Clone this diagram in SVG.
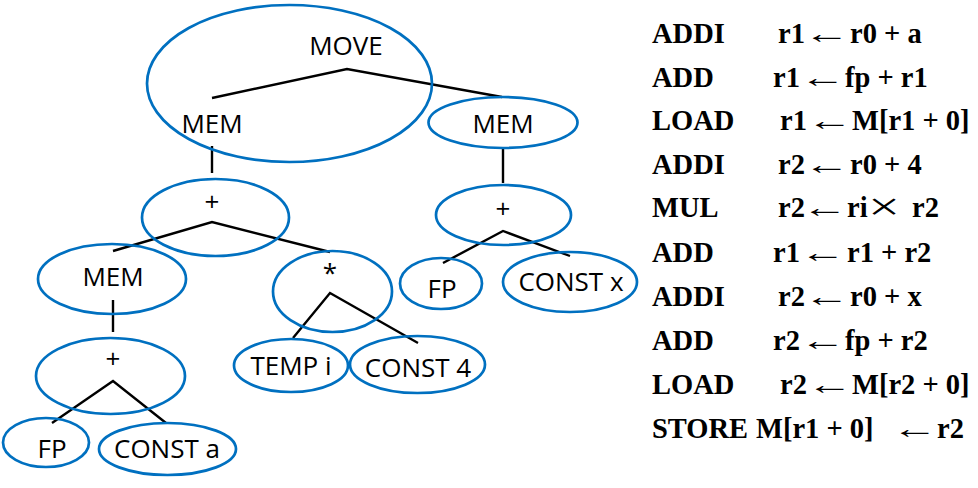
<svg xmlns="http://www.w3.org/2000/svg" width="978" height="488" viewBox="0 0 978 488">
<style>
.n{fill:none;stroke:#0070c0;stroke-width:2.7}
.t{font-family:"Open Sans","Noto Sans",sans-serif;font-size:26px;fill:#000;text-anchor:middle}
.e{stroke:#000;stroke-width:2.4;fill:none}
.c{font-family:"Liberation Serif","Times New Roman",serif;font-size:28.5px;font-weight:bold;fill:#000}
.a{font-family:"Liberation Serif","Times New Roman",serif;font-size:29px;fill:#000}
.x{font-family:"Liberation Serif","Times New Roman",serif;font-size:40px;fill:#000}
</style>
<rect width="978" height="488" fill="#fff"/>
<g id="connectors">
<polyline class="e" points="212,98 347,69 502,97"/>
<line class="e" x1="212" y1="146" x2="212" y2="173"/>
<polyline class="e" points="113,251 212,222 330,252"/>
<line class="e" x1="113" y1="300" x2="113" y2="332"/>
<polyline class="e" points="52,423 113,381 166,423"/>
<polyline class="e" points="293,338 330,293 418,343"/>
<line class="e" x1="503" y1="149" x2="503" y2="183"/>
<polyline class="e" points="443,263 503,231 570,256"/>
</g>
<g id="move"><ellipse class="n" cx="289.5" cy="83.5" rx="142.5" ry="78.5"/><text class="t" x="346" y="55">MOVE</text></g>
<g id="mem1"><text class="t" x="212" y="133">MEM</text></g>
<g id="mem2"><ellipse class="n" cx="503" cy="122.5" rx="74.5" ry="25.5"/><text class="t" x="503" y="133">MEM</text></g>
<g id="plus1"><ellipse class="n" cx="215.5" cy="217.5" rx="73.5" ry="38.5"/><text class="t" x="212" y="211">+</text></g>
<g id="mem3"><ellipse class="n" cx="112" cy="279" rx="74" ry="35"/><text class="t" x="113" y="286">MEM</text></g>
<g id="plus2"><ellipse class="n" cx="110.5" cy="376" rx="74.5" ry="38"/><text class="t" x="113" y="368">+</text></g>
<g id="fp1"><ellipse class="n" cx="46" cy="442.5" rx="43" ry="24.5"/><text class="t" x="52" y="458">FP</text></g>
<g id="consta"><ellipse class="n" cx="167.5" cy="449" rx="68.5" ry="26"/><text class="t" x="167" y="458">CONST a</text></g>
<g id="mul"><ellipse class="n" cx="332.5" cy="291.5" rx="59.5" ry="40.5"/><text class="t" x="330" y="282">*</text></g>
<g id="tempi"><ellipse class="n" cx="291" cy="365.5" rx="57" ry="26.5"/><text class="t" x="291" y="375">TEMP i</text></g>
<g id="const4"><ellipse class="n" cx="417.5" cy="364.5" rx="67.5" ry="28.5"/><text class="t" x="418" y="377">CONST 4</text></g>
<g id="plus3"><ellipse class="n" cx="503.5" cy="215" rx="67.5" ry="30"/><text class="t" x="503" y="218">+</text></g>
<g id="fp2"><ellipse class="n" cx="441" cy="283.5" rx="41" ry="25.5"/><text class="t" x="442" y="298">FP</text></g>
<g id="constx"><ellipse class="n" cx="570" cy="282" rx="67" ry="30"/><text class="t" x="571" y="291">CONST x</text></g>
<g id="code">
<text class="c" x="652" y="43">ADDI</text><text class="c" x="778" y="43">r1<tspan x="850">r0 + a</tspan></text>
<text class="a" transform="translate(803.5,43) scale(1.6,1)">←</text>
<text class="c" x="652" y="87">ADD</text><text class="c" x="773" y="87">r1<tspan x="845">fp + r1</tspan></text>
<text class="a" transform="translate(799.5,87) scale(1.6,1)">←</text>
<text class="c" x="652" y="130">LOAD</text><text class="c" x="780" y="130">r1<tspan x="852">M[r1 + 0]</tspan></text>
<text class="a" transform="translate(806.5,130) scale(1.6,1)">←</text>
<text class="c" x="652" y="174">ADDI</text><text class="c" x="778" y="174">r2<tspan x="850">r0 + 4</tspan></text>
<text class="a" transform="translate(803.5,174) scale(1.6,1)">←</text>
<text class="c" x="652" y="217">MUL</text><text class="c" x="778" y="217">r2<tspan x="847">ri</tspan><tspan x="912">r2</tspan></text>
<text class="a" transform="translate(801.5,217) scale(1.6,1)">←</text>
<text class="x" transform="translate(868,220) scale(1.42,1)">×</text>
<text class="c" x="652" y="262">ADD</text><text class="c" x="773" y="262">r1<tspan x="847">r1 + r2</tspan></text>
<text class="a" transform="translate(799.5,262) scale(1.6,1)">←</text>
<text class="c" x="652" y="306">ADDI</text><text class="c" x="778" y="306">r2<tspan x="850">r0 + x</tspan></text>
<text class="a" transform="translate(803.5,306) scale(1.6,1)">←</text>
<text class="c" x="652" y="350">ADD</text><text class="c" x="773" y="350">r2<tspan x="845">fp + r2</tspan></text>
<text class="a" transform="translate(799.5,350) scale(1.6,1)">←</text>
<text class="c" x="652" y="394">LOAD</text><text class="c" x="780" y="394">r2<tspan x="852">M[r2 + 0]</tspan></text>
<text class="a" transform="translate(806.5,394) scale(1.6,1)">←</text>
<text class="c" x="652" y="438">STORE</text><text class="c" x="756" y="438">M[r1 + 0]<tspan x="937">r2</tspan></text>
<text class="a" transform="translate(891.5,438) scale(1.6,1)">←</text>
</g>
</svg>
